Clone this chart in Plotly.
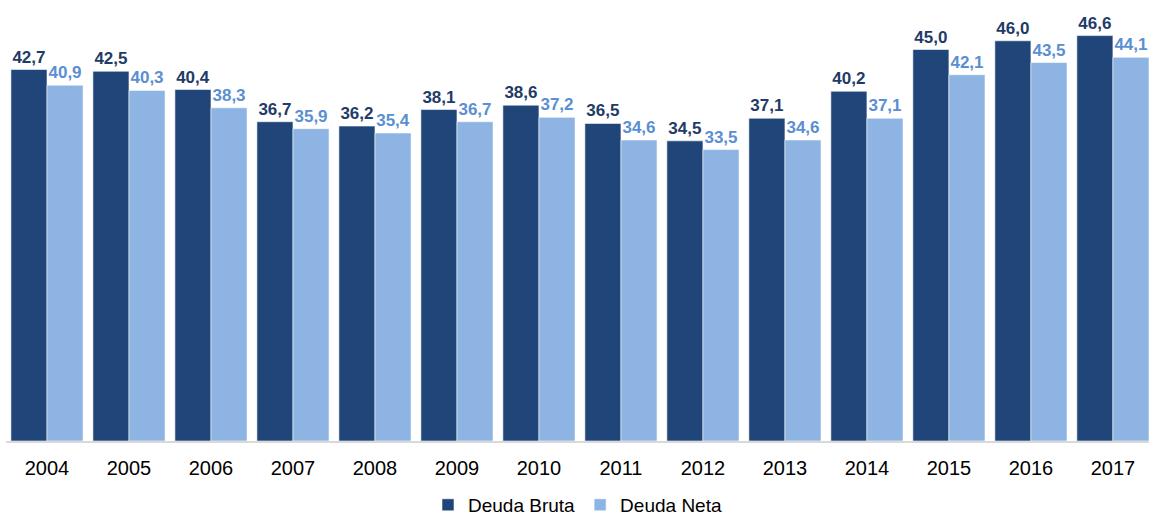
import plotly.graph_objects as go

years = ["2004", "2005", "2006", "2007", "2008", "2009", "2010",
         "2011", "2012", "2013", "2014", "2015", "2016", "2017"]
deuda_bruta = [42.7, 42.5, 40.4, 36.7, 36.2, 38.1, 38.6, 36.5, 34.5, 37.1, 40.2, 45.0, 46.0, 46.6]
deuda_neta = [40.9, 40.3, 38.3, 35.9, 35.4, 36.7, 37.2, 34.6, 33.5, 34.6, 37.1, 42.1, 43.5, 44.1]

def fmt(v):
    return f"{v:.1f}".replace(".", ",")

fig = go.Figure()
fig.add_trace(go.Bar(
    x=years, y=deuda_bruta, name="Deuda Bruta",
    marker=dict(color="#1F4579", line=dict(color="rgba(255,255,255,0.7)", width=0.8)),
    text=[fmt(v) for v in deuda_bruta], textposition="outside", constraintext="none",
    textfont=dict(family="Liberation Sans, Arial", size=17, color="#1F3B68"),
    texttemplate="<b>%{text}</b>", cliponaxis=False,
))
fig.add_trace(go.Bar(
    x=years, y=deuda_neta, name="Deuda Neta",
    marker=dict(color="#8DB4E2", line=dict(color="rgba(255,255,255,0.7)", width=0.8)),
    text=[fmt(v) for v in deuda_neta], textposition="outside", constraintext="none",
    textfont=dict(family="Liberation Sans, Arial", size=17, color="#5B8FD2"),
    texttemplate="<b>%{text}</b>", cliponaxis=False,
))

fig.update_layout(
    width=1149, height=515,
    margin=dict(l=6, r=0, t=6, b=74, autoexpand=False),
    paper_bgcolor="white", plot_bgcolor="white",
    barmode="group", bargap=0.12, bargroupgap=0,
    font=dict(family="Liberation Sans, Arial", color="#000000"),
    xaxis=dict(
        type="category", range=[-0.5, 13.44], automargin=False,
        showline=True, linecolor="#D9D9D9", linewidth=2,
        showgrid=False, ticks="outside", ticklen=8, tickcolor="rgba(0,0,0,0)",
        tickfont=dict(size=20, color="#000000"),
    ),
    yaxis=dict(range=[0, 50], visible=False, showgrid=False, zeroline=False),
    legend=dict(
        orientation="h", x=0.5, xanchor="center", y=-0.147, yanchor="middle",
        font=dict(size=19, color="#000000"), traceorder="normal",
        itemwidth=30,
    ),
    showlegend=True,
)

fig.write_html(
    "out.html",
    config={"displayModeBar": False},
    post_script="document.body.style.margin='0';document.body.style.overflow='hidden';",
)
